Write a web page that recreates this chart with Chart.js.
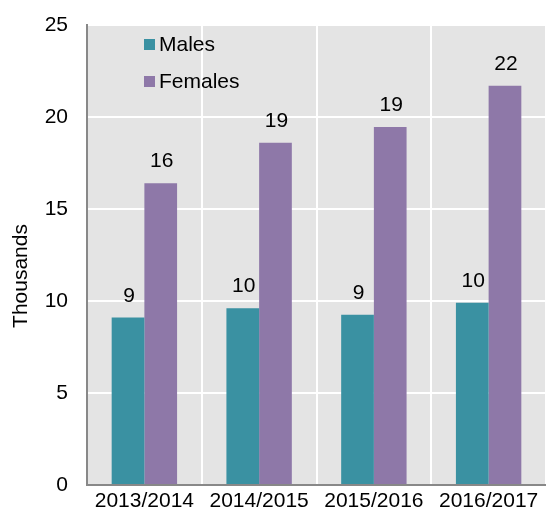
<!DOCTYPE html>
<html><head><meta charset="utf-8">
<script src="https://cdn.jsdelivr.net/npm/chart.js@4/dist/chart.umd.min.js"></script>
<style>html,body{margin:0;padding:0;background:#fff}#wrap{width:546px;height:517px}</style>
</head><body><div id="wrap"><canvas id="c" width="546" height="517"></canvas></div>
<script>
const categories = ["2013/2014","2014/2015","2015/2016","2016/2017"];
const males = [9.1, 9.6, 9.25, 9.9];
const females = [16.4, 18.6, 19.45, 21.7];
const yTicks = [0,5,10,15,20,25];
const seriesNames = ["Males","Females"];
const yTitle = "Thousands";
const colors = ["#3a91a2","#8e78a8"];

const FONT = "'Liberation Sans', Arial, sans-serif";

const bgPlugin = {
  id:'bg',
  beforeDraw(chart){
    const {ctx, chartArea:a} = chart;
    ctx.save(); ctx.fillStyle='#e4e4e4';
    ctx.fillRect(a.left,a.top,a.right-a.left,a.bottom-a.top); ctx.restore();
  }
};
const labelPlugin = {
  id:'labels',
  afterDatasetsDraw(chart){
    const ctx = chart.ctx;
    ctx.save();
    ctx.font = "21px " + FONT; ctx.fillStyle='#000';
    ctx.textAlign='center'; ctx.textBaseline='alphabetic';
    chart.data.datasets.forEach((ds,i)=>{
      chart.getDatasetMeta(i).data.forEach((bar,j)=>{
        ctx.fillText(String(Math.round(ds.data[j])), bar.x + 1, bar.y - 16);
      });
    });
    const a = chart.chartArea;
    seriesNames.forEach((n,i)=>{
      const y = a.top + 19 + i*37;
      ctx.fillStyle = colors[i];
      ctx.fillRect(144, y-5, 11, 11);
      ctx.fillStyle='#000'; ctx.textAlign='left'; ctx.textBaseline='middle';
      ctx.fillText(n, 159, y+1);
    });
    // y-axis title
    ctx.save();
    ctx.translate(21, 276);
    ctx.rotate(-Math.PI/2);
    ctx.textAlign='center'; ctx.textBaseline='middle';
    ctx.fillStyle='#000';
    ctx.fillText(yTitle, 0, 0);
    ctx.restore();
    ctx.restore();
  }
};

new Chart(document.getElementById('c'), {
  type:'bar',
  data:{labels:categories, datasets:[
    {label:seriesNames[0], data:males, backgroundColor:colors[0]},
    {label:seriesNames[1], data:females, backgroundColor:colors[1]}
  ]},
  options:{
    responsive:false, animation:false, devicePixelRatio:1,
    layout:{padding:{top:25,right:0,left:0,bottom:0}},
    plugins:{legend:{display:false}, tooltip:{enabled:false}},
    datasets:{bar:{categoryPercentage:0.57, barPercentage:1.0}},
    scales:{
      x:{
        grid:{color:'#ffffff', lineWidth:2, offset:true, drawTicks:false},
        border:{color:'#888888', width:2},
        ticks:{color:'#000', font:{size:21, family:FONT}, padding:4, maxRotation:0},
        afterFit(s){ s.height = 32; s.paddingLeft = 0; s.paddingRight = 0; }
      },
      y:{
        min:0, max:25,
        afterBuildTicks(s){ s.ticks = yTicks.map(v=>({value:v})); },
        grid:{color:'#ffffff', lineWidth:2, drawTicks:false},
        border:{color:'#888888', width:2},
        ticks:{color:'#000', font:{size:21, family:FONT}, padding:19},
        title:{display:false},
        afterFit(s){ s.width = 87; s.paddingTop = 0; s.paddingBottom = 0; }
      }
    }
  },
  plugins:[bgPlugin, labelPlugin]
});
</script></body></html>
